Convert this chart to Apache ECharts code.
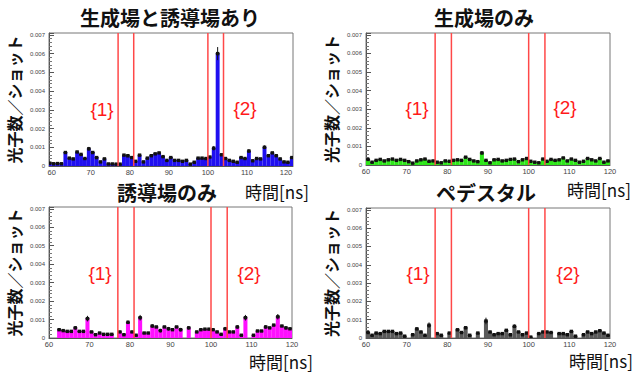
<!DOCTYPE html>
<html><head><meta charset="utf-8">
<script src="https://cdn.jsdelivr.net/npm/echarts@6/dist/echarts.min.js"></script>
<style>html,body{margin:0;padding:0;background:#fff}#c{width:633px;height:376px}</style>
</head><body><div id="c"></div>
<script>
const titles = ['生成場と誘導場あり', '生成場のみ', '誘導場のみ', 'ペデスタル'];
const yName = '光子数／ショット';
const xName = '時間[ns]';
const regionLabels = ['{1}', '{2}'];
const regionEdges = [77, 81, 100, 104];
const xTicks = [60, 70, 80, 90, 100, 110, 120];

// panel 1: bins 59..121 (1 ns)
const start1 = 59;
const blue = [0.00015, 0.00012, 0.00013, 0.00012, 0.00072, 0.00042, 0.00038, 0.00075, 0.00062, 0.0004,
  0.00092, 0.00072, 0.00045, 0.00022, 0.00038, 0.00011, 0.00011, 0.0001, 0.0001, 0.00058,
  0.00055, 0.00045, 0.00025, 0.00058, 0.00022, 0.00042, 0.00055, 0.00065, 0.0007, 0.0005,
  0.0003, 0.00045, 0.0003, 0.0003, 0.00025, 0.0003, 0.0001, 0.0002, 0.00042, 0.00042,
  0.0004, 0.00048, 0.00095, 0.006, 0.0006, 0.0004, 0.0003, 0.00025, 0.0002, 0.00045,
  0.0004, 0.0008, 0.00028, 0.0004, 0.00038, 0.001, 0.00055, 0.0007, 0.00055, 0.00038,
  0.00022, 0.0002, 0.00045];
const blueErr = {102: 0.00035, 101: 0.00012, 110: 0.0001, 114: 0.0001, 69: 0.0001};

// panels 2-4: bins 60..119
const start = 60;
const green = [0.0003, 0.00015, 0.00025, 0.0003, 0.00022, 0.00028, 0.00032, 0.00025, 0.0003, 0.00025,
  0.00018, 0.0001, 0.00022, 0.00028, 0.00032, 0.0002, 0.00022, 0.00015, 0.00012, 0.00022,
  0.0002, 0.00025, 0.00028, 0.00025, 0.00042, 0.0003, 0.00022, 0.00018, 0.00065, 0.00025,
  0.00012, 0.00028, 0.0003, 0.00022, 0.00025, 0.0003, 0.00032, 0.00018, 0.00028, 0.00035,
  0.0002, 0.00015, 0.00012, 0.00032, 0.0002, 0.0003, 0.00025, 0.00028, 0.00038, 0.00022,
  0.00032, 0.00025, 0.00015, 0.0002, 0.00035, 0.00028, 0.00022, 0.00035, 0.00015, 0.00022];
const greenErr = {88: 0.0001};

const magenta = [null, null, 0.00045, 0.0004, 0.00036, 0.00036, 0.00055, 0.00036, 0.00036, 0.00105,
  0.00033, 0.00018, 0.00027, 0.0002, 0.0002, 0.0002, null, 0.00033, 0.00018, 0.00085,
  0.00033, 0.00015, 0.0011, 0.00027, 0.00027, 0.00065, 0.0006, 0.0004, 0.0006, 0.0005,
  0.00045, 0.0006, 0.00045, null, 0.00055, null, 0.00033, 0.00045, 0.00048, 0.00048,
  0.00045, 0.00033, 0.0002, 0.0005, 0.00033, 0.00033, 0.0006, 0.00015, 0.0011, null,
  0.00015, 0.00038, 0.00038, 0.0006, 0.00055, 0.0007, 0.00115, 0.00065, 0.00055, 0.0005];
const magentaErr = {66: 0.0001, 69: 0.00015, 79: 0.0001, 82: 0.00015, 85: 0.0001, 87: 0.0001, 89: 0.0001,
  92: 0.0001, 94: 0.0001, 103: 0.0001, 106: 0.0001, 108: 0.00015, 113: 0.0001, 116: 0.00015, 118: 0.0001};

const gray = [0.0003, 0.00015, 0.00027, 0.00024, 0.00036, 0.00036, 0.00036, 0.00024, 0.00027, 0.0001,
  null, 0.00018, 0.0005, 0.00033, 0.00015, 0.0007, null, 0.00024, 0.00015, null,
  0.00027, null, 0.00045, 0.0003, 0.00056, 0.00015, null, 0.00027, null, 0.00093,
  0.00033, 0.00018, 0.00024, 0.00024, 0.00042, 0.00018, 0.00064, 0.00033, 0.00018, 0.00027,
  0.00005, null, 0.00024, 0.00033, 0.00033, 0.0003, null, 0.00024, 0.00024, 0.00018,
  0.00036, 0.0001, null, 0.00018, 0.00033, 0.00024, 0.00033, 0.0004, 0.00027, 0.00015];
const grayErr = {75: 0.00015, 89: 0.00018, 96: 0.0001, 72: 0.00008, 84: 0.00008};

const panels = [
  {vals: blue, s: start1, err: blueErr, color: '#1f0ff0', grid: {left: 49, top: 33, width: 244, height: 133}, xmin: 59.3, xmax: 121.8,
   xNamePos: [277, 191], lab: [[102, 109], [245, 108]]},
  {vals: green, s: start, err: greenErr, color: '#2ee61a', grid: {left: 366, top: 33, width: 244, height: 132}, xmin: 60, xmax: 120,
   xNamePos: [599, 189], lab: [[417, 108], [565, 107]]},
  {vals: magenta, s: start, err: magentaErr, color: '#ff10ff', grid: {left: 49, top: 207, width: 243, height: 131}, xmin: 60, xmax: 120,
   xNamePos: [281, 361], lab: [[100, 273], [249, 273]]},
  {vals: gray, s: start, err: grayErr, color: '#5a5a5a', grid: {left: 366, top: 208, width: 244, height: 130}, xmin: 60, xmax: 120,
   xNamePos: [601, 360], lab: [[418, 273], [568, 273]]}
];
const titlePos = [[170, 7], [484, 7], [167, 182], [486, 182]];

function histItem(color) {
  return function (params, api) {
    const v = api.value(1);
    if (v == null || isNaN(v)) return null;
    const x = api.value(0), e = api.value(2);
    const p0 = api.coord([x, 0]);
    const p1 = api.coord([x + 1, v]);
    const pc = api.coord([x + 0.5, v]);
    const ch = [
      {type: 'rect', shape: {x: p0[0], y: p1[1], width: p1[0] - p0[0], height: p0[1] - p1[1]}, style: {fill: color}},
      {type: 'line', shape: {x1: p0[0], y1: p1[1], x2: p1[0], y2: p1[1]}, style: {stroke: '#111', lineWidth: 1}}
    ];
    if (e > 0) {
      const pt = api.coord([x + 0.5, v + e]);
      const pb = api.coord([x + 0.5, Math.max(0, v - e)]);
      ch.push({type: 'line', shape: {x1: pc[0], y1: pt[1], x2: pc[0], y2: pb[1]}, style: {stroke: '#111', lineWidth: 1}});
    }
    ch.push({type: 'rect', shape: {x: pc[0] - 1.7, y: pc[1] - 1.7, width: 3.4, height: 3.4}, style: {fill: '#111'}});
    return {type: 'group', children: ch};
  };
}
function edgeItem(params, api) {
  const x = api.value(0);
  const pb = api.coord([x, 0]);
  const top = params.coordSys.y;
  return {type: 'line', shape: {x1: pb[0], y1: top, x2: pb[0], y2: pb[1]}, style: {stroke: '#ff4848', lineWidth: 1.5}};
}

const option = {
  animation: false,
  backgroundColor: '#fff',
  title: titles.map((t, i) => ({
    text: t, left: titlePos[i][0], top: titlePos[i][1], textAlign: 'center', padding: 0,
    textStyle: {fontSize: 20, fontWeight: 'bold', color: '#111', fontFamily: 'Noto Sans CJK JP', lineHeight: 20}
  })),
  grid: panels.map(p => Object.assign({show: true, borderColor: '#777', borderWidth: 1, backgroundColor: '#fff'}, p.grid)),
  xAxis: panels.map((p, i) => ({
    type: 'value', gridIndex: i, min: p.xmin, max: p.xmax,
    axisLine: {show: true, lineStyle: {color: '#555', width: 1}},
    axisTick: {show: false},
    splitLine: {show: false},
    axisLabel: {customValues: xTicks, fontSize: 7.5, color: '#444', margin: 2, fontFamily: 'Liberation Sans'}
  })),
  yAxis: panels.map((p, i) => ({
    type: 'value', gridIndex: i, min: 0, max: 0.0071, interval: 0.001,
    name: yName, nameLocation: 'middle', nameRotate: 90, nameGap: 27,
    nameTextStyle: {fontSize: 16, fontWeight: 'bold', color: '#111', fontFamily: 'Noto Sans CJK JP'},
    axisLine: {show: true, lineStyle: {color: '#555', width: 1}},
    axisTick: {show: true, inside: true, length: 5, lineStyle: {color: '#555'}},
    minorTick: {show: true, splitNumber: 5, length: 3, lineStyle: {color: '#777'}},
    splitLine: {show: false},
    axisLabel: {fontSize: 6, color: '#444', margin: 4, fontFamily: 'Liberation Sans',
      formatter: v => v === 0 ? '0' : v.toFixed(3)}
  })),
  series: panels.flatMap((p, i) => [
    {type: 'custom', xAxisIndex: i, yAxisIndex: i, clip: true, renderItem: histItem(p.color),
     encode: {x: 0, y: 1},
     data: p.vals.map((v, k) => [p.s + k, v, p.err[p.s + k] || 0])},
    {type: 'custom', xAxisIndex: i, yAxisIndex: i, renderItem: edgeItem, encode: {x: 0},
     data: regionEdges.map(x => [x])}
  ]),
  graphic: panels.flatMap(p => [
    {type: 'text', x: p.xNamePos[0], y: p.xNamePos[1], style: {text: xName, align: 'center', verticalAlign: 'middle',
      fill: '#111', font: '17px "Noto Sans CJK JP"'}},
    ...p.lab.map((q, k) => ({type: 'text', x: q[0], y: q[1], style: {text: regionLabels[k], align: 'center', verticalAlign: 'middle',
      fill: '#ff1a1a', font: '19px "Liberation Sans"'}}))
  ])
};
const chart = echarts.init(document.getElementById('c'), null, {renderer: 'svg'});
chart.setOption(option);
</script>
</body></html>
